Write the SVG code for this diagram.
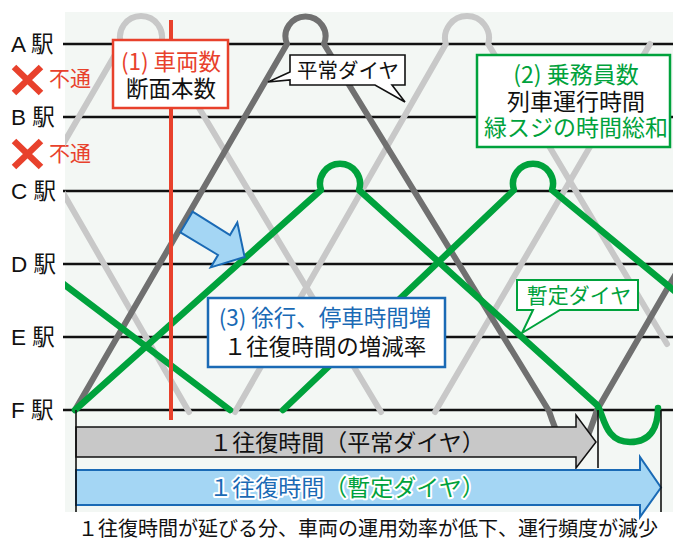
<svg xmlns="http://www.w3.org/2000/svg" width="673" height="543" viewBox="0 0 673 543">
<style>
.jp{font-family:"Noto Sans CJK JP","Liberation Sans",sans-serif;}
.st{font-family:"Liberation Sans","Noto Sans CJK JP",sans-serif;font-size:22.5px;fill:#111;}
.sline{stroke:#111;stroke-width:2.5;fill:none;}
.lg{stroke:#c8c8c8;stroke-width:6;fill:none;stroke-linecap:round;stroke-linejoin:round;}
.dg{stroke:#707070;stroke-width:6;fill:none;stroke-linecap:round;stroke-linejoin:round;}
.gr{stroke:#00a23c;stroke-width:6.5;fill:none;stroke-linecap:round;stroke-linejoin:round;}
.red{fill:#e8412c;}
.grn{fill:#00a23c;}
.blu{fill:#1a6ab5;}
.blk{fill:#111;}
.halo{stroke:#fff;stroke-width:4;paint-order:stroke;stroke-linejoin:round;}
.vl{stroke:#111;stroke-width:1.6;fill:none;}
</style>
<defs>
<clipPath id="panel"><rect x="65" y="0" width="608" height="543"/></clipPath>
</defs>
<rect x="65" y="12" width="608" height="500" fill="#f3f7f4"/>
<g id="stations">
<g id="station-A"><line class="sline" x1="63" y1="44" x2="673" y2="44"/><text class="st" x="11" y="52">A 駅</text></g>
<g id="station-B"><line class="sline" x1="63" y1="117" x2="673" y2="117"/><text class="st" x="11" y="125">B 駅</text></g>
<g id="station-C"><line class="sline" x1="63" y1="191" x2="673" y2="191"/><text class="st" x="11" y="199">C 駅</text></g>
<g id="station-D"><line class="sline" x1="63" y1="264" x2="673" y2="264"/><text class="st" x="11" y="272">D 駅</text></g>
<g id="station-E"><line class="sline" x1="63" y1="337" x2="673" y2="337"/><text class="st" x="11" y="345">E 駅</text></g>
<g id="station-F"><line class="sline" x1="63" y1="410" x2="673" y2="410"/><text class="st" x="11" y="418">F 駅</text></g>
</g>
<g id="closed-AB">
<path d="M14,67 L41,93 M41,67 L14,93" stroke="#e8412c" stroke-width="6.5" fill="none"/>
<text class="jp red" x="49" y="86" font-size="21">不通</text>
</g>
<g id="closed-BC">
<path d="M14,141 L41,167 M41,141 L14,167" stroke="#e8412c" stroke-width="6.5" fill="none"/>
<text class="jp red" x="49" y="161" font-size="21">不通</text>
</g>
<g id="connectors" clip-path="url(#panel)">
<path class="lg" d="M0,83 L189,412"/>
<path class="lg" d="M0,252.5 L121.2,44 A21 21 0 1 1 160.8,44 L381,412"/>
<path class="lg" d="M235,412 L445.8,44 A22 22 0 1 1 488.2,44 L667,344"/>
<path class="lg" d="M435,412 L650,44"/>
<path class="dg" d="M75,410 L287,44 A20 20 0 1 1 324,44 L549,411 C556,432 564,452 573,452 C583,452 590,432 597,410 L700,232"/>
<path class="gr" d="M0,236 L230,410"/>
<path class="gr" d="M75,410 L321,190 A20 20 0 1 1 359,190 L597,405 C604,414 604,442 630,442 C652,442 658,425 658,408"/>
<path class="gr" d="M283,410 L514,190 A20 20 0 1 1 552,190 L700,312"/>
<line x1="171" y1="20" x2="171" y2="420" stroke="#e8412c" stroke-width="4"/>
</g>
<g id="callout-vehicles">
<rect x="113" y="40" width="115" height="68" fill="#fff" stroke="#e8412c" stroke-width="2.5"/>
<text class="jp red" x="171" y="70" font-size="22.5" text-anchor="middle">(1) 車両数</text>
<text class="jp blk" x="171" y="97" font-size="22.5" text-anchor="middle">断面本数</text>
</g>
<g id="callout-normal">
<path d="M290,55 H405 V85 H392 L405,102 L375,85 H290 V80 L268,82 L290,72 Z" fill="#fff" stroke="#111" stroke-width="1.6" stroke-linejoin="miter"/>
<text class="jp blk" x="348" y="78" font-size="20.5" text-anchor="middle">平常ダイヤ</text>
</g>
<g id="callout-crew">
<rect x="477" y="55" width="193" height="92" fill="#fff" stroke="#00a23c" stroke-width="2.5"/>
<text class="jp grn" x="576" y="83" font-size="23" text-anchor="middle">(2) 乗務員数</text>
<text class="jp blk" x="576" y="110" font-size="23" text-anchor="middle">列車運行時間</text>
<text class="jp grn" x="576" y="136" font-size="23" text-anchor="middle">緑スジの時間総和</text>
</g>
<g id="callout-interim">
<path d="M517,280 H638 V310 H560 L522,333 L533,310 H517 Z" fill="#fff" stroke="#00a23c" stroke-width="2"/>
<text class="jp grn" x="579" y="303" font-size="21" text-anchor="middle">暫定ダイヤ</text>
</g>
<g id="shift-arrow">
<path d="M192.6,211.7 L230,235 L237.3,222.6 L244.6,257 L210.7,267.4 L218,255 L180.4,232.3 Z" fill="#a4d6f4" stroke="#1a6ab5" stroke-width="2" stroke-linejoin="miter"/>
</g>
<g id="callout-slow">
<rect x="208" y="298" width="237" height="69" fill="#fff" stroke="#1a6ab5" stroke-width="2.5"/>
<text class="jp blu" x="325" y="326" font-size="22.5" text-anchor="middle">(3) 徐行、停車時間増</text>
<text class="jp blk" x="325" y="355" font-size="22.5" text-anchor="middle">１往復時間の増減率</text>
</g>
<g id="arrow-normal">
<path d="M76,427 H576 V415 L596,442 L576,468 V457 H76 Z" fill="#c8c8c8" stroke="#111" stroke-width="1.5"/>
<text class="jp blk" x="347" y="451" font-size="23" text-anchor="middle">１往復時間（平常ダイヤ）</text>
</g>
<g id="arrow-interim">
<path d="M76,470 H640 V457 L661,487.5 L640,517 V505 H76 Z" fill="#a4d6f4" stroke="#1a6ab5" stroke-width="2"/>
<text class="jp halo" x="347" y="496" font-size="23" text-anchor="middle"><tspan fill="#1a6ab5">１往復時間</tspan><tspan fill="#00a23c">（暫定ダイヤ）</tspan></text>
</g>
<g id="markers">
<line class="vl" x1="76" y1="410" x2="76" y2="512"/>
<line class="vl" x1="598" y1="410" x2="598" y2="468"/>
<line class="vl" x1="661" y1="410" x2="661" y2="512"/>
</g>
<text class="jp blk" x="368" y="536" font-size="20" text-anchor="middle">１往復時間が延びる分、車両の運用効率が低下、運行頻度が減少</text>
</svg>
